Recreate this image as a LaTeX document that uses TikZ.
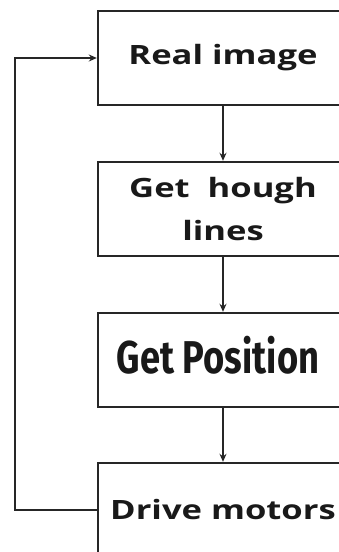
\documentclass[tikz,border=0pt]{standalone}
\usepackage{fontspec}
\setmainfont{Open Sans}
\newfontfamily\condfont{Fira Sans}
\usetikzlibrary{arrows.meta}
\newcommand{\wide}[1]{\scalebox{1.3}[1]{#1}}
\begin{document}
\begin{tikzpicture}[x=1pt,y=-1pt,
  box/.style={draw=black!85, line width=2.4pt, minimum width=250pt, minimum height=94pt, inner sep=0pt, align=center},
  arr/.style={-{Stealth[length=8pt,width=7pt]}, line width=1.8pt, draw=black!85},
  lbl/.style={font=\bfseries\fontsize{26.6}{43}\selectfont, text=black!90}]
\useasboundingbox (0,0) rectangle (339,552);
\clip (0,0) rectangle (339,552);
\node[box, lbl] (real) at (223,58) {\wide{Real image}};
\node[box, lbl] (hough) at (223,209) {\wide{Get~~hough}\\\wide{lines}};
\node[box, text=black!90] (pos) at (223,360) {};
\node[text=black!90, inner sep=0pt] (postext) at (218,355) {\condfont\bfseries\fontsize{46}{50}\selectfont\scalebox{0.79}[1]{Get Position}};
\node[box, lbl] (drive) at (223,510) {\wide{Drive motors}};
\coordinate (loop) at (15,510);
\draw[arr] (real) -- (hough);
\draw[arr] (hough) -- (pos);
\draw[arr] (pos) -- (drive);
\draw[arr] (drive.west) -- (loop) |- (real.west);
\end{tikzpicture}
\end{document}
